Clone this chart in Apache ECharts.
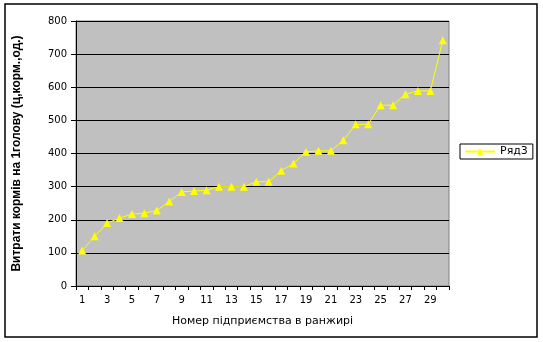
<!DOCTYPE html>
<html><head><meta charset="utf-8">
<script src="https://cdn.jsdelivr.net/npm/echarts@6/dist/echarts.min.js"></script>
<style>html,body{margin:0;padding:0;background:#fff}#c{width:543px;height:342px}</style>
</head><body><div id="c"></div>
<script>
const categories = [1,2,3,4,5,6,7,8,9,10,11,12,13,14,15,16,17,18,19,20,21,22,23,24,25,26,27,28,29,30].map(String);
const seriesName = 'Ряд3';
const values = [107,150,190,205,217,220,228,255,284,287,289,300,300,300,315,315,348,370,405,408,408,440,488,488,546,546,579,589,589,742];
const yTicks = {min:0, max:800, interval:100};
const xTitle = 'Номер підприємства в ранжирі';
const yTitle = 'Витрати кормів на 1голову (ц,корм.,од.)';

const chart = echarts.init(document.getElementById('c'), null, {renderer:'canvas'});
chart.setOption({
  animation:false,
  backgroundColor:'#fff',
  graphic:[{type:'rect', shape:{x:5,y:4,width:532,height:333}, style:{fill:'none', stroke:'#000', lineWidth:1.5}, z:-1}],
  grid:{left:76, right:94, top:21, bottom:56, show:true, backgroundColor:'#c0c0c0', borderColor:'#808080', borderWidth:1},
  legend:{left:460, top:144, orient:'vertical', borderColor:'#000', borderWidth:1, padding:[2,5,2,4], itemWidth:30, itemHeight:8, itemGap:0,
    textStyle:{fontFamily:'DejaVu Sans', fontSize:11, color:'#000'}, data:[seriesName]},
  xAxis:{type:'category', data:categories, boundaryGap:true,
    name:xTitle, nameLocation:'middle', nameGap:30, nameTextStyle:{fontFamily:'DejaVu Sans', fontSize:11, color:'#000'},
    axisLine:{lineStyle:{color:'#000', width:1}},
    axisTick:{show:true, interval:0, length:4, lineStyle:{color:'#000'}},
    axisLabel:{interval:1, fontFamily:'DejaVu Sans', fontSize:10, color:'#000', margin:9},
    splitLine:{show:false}},
  yAxis:{type:'value', min:yTicks.min, max:yTicks.max, interval:yTicks.interval,
    name:yTitle, nameLocation:'middle', nameGap:53, nameTextStyle:{fontFamily:'Liberation Sans', fontWeight:'bold', fontSize:12, color:'#000'},
    axisLine:{show:true, lineStyle:{color:'#000', width:1}},
    axisTick:{show:true, length:5, lineStyle:{color:'#000'}},
    axisLabel:{fontFamily:'DejaVu Sans', fontSize:10, color:'#000', margin:9},
    splitLine:{show:true, lineStyle:{color:'#000', width:1}}},
  series:[{name:seriesName, type:'line', data:values, symbol:'triangle', symbolSize:8,
    lineStyle:{color:'#ffff00', width:1}, itemStyle:{color:'#ffff00'}}]
});
</script></body></html>
